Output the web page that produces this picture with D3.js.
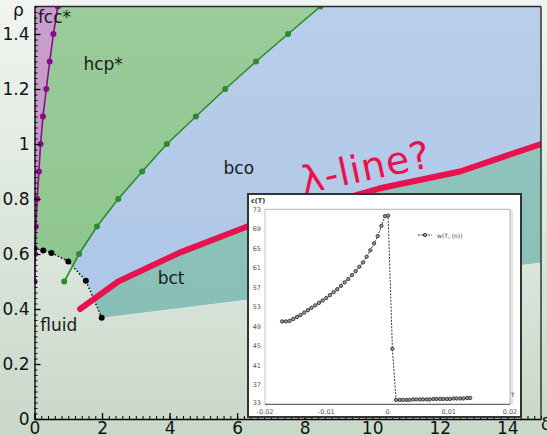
<!DOCTYPE html>
<html>
<head>
<meta charset="utf-8">
<script src="https://cdn.jsdelivr.net/npm/d3@7"></script>
<style>
  html, body { margin: 0; padding: 0; background: #e4ece4; }
  svg { display: block; }
  text { font-family: "DejaVu Sans", sans-serif; }
</style>
</head>
<body>
<script>
// Phase diagram of the model in the (delta, rho) plane, with an inset of c(T)

// Phase boundaries, each as [delta, rho] pairs
const fccHcpLine = [[0, 0.5], [0.02, 0.6], [0.04, 0.7], [0.08, 0.8], [0.13, 0.9], [0.18, 1.0],
                    [0.25, 1.1], [0.35, 1.2], [0.45, 1.3], [0.56, 1.4], [0.69, 1.5]];
const hcpBcoLine = [[0.88, 0.5], [1.32, 0.6], [1.85, 0.7], [2.48, 0.8], [3.19, 0.9], [3.92, 1.0],
                    [4.78, 1.1], [5.65, 1.2], [6.56, 1.3], [7.51, 1.4], [8.47, 1.5]];
const fluidLine = [[0, 0.62], [0.26, 0.613], [0.5, 0.604], [1.0, 0.573], [1.52, 0.503], [1.99, 0.368]];
const bctFluidLine = [[1.99, 0.368], [15, 0.569]];
const lambdaLine = [[1.35, 0.40], [2.48, 0.50], [4.3, 0.605], [6.3, 0.70], [10.2, 0.838], [12.6, 0.90], [15, 1.0]];

// Axis ticks
const xTicks = [0, 2, 4, 6, 8, 10, 12, 14];
const yTicks = [0, 0.2, 0.4, 0.6, 0.8, 1, 1.2, 1.4];
const yTickLabels = ["0", "0.2", "0.4", "0.6", "0.8", "1", "1.2", "1.4"];

// Region names
const regionLabels = [
  { text: "fcc*", d: 0.1, r: 1.44 },
  { text: "hcp*", d: 1.45, r: 1.27 },
  { text: "bco", d: 5.6, r: 0.89 },
  { text: "bct", d: 3.65, r: 0.49 },
  { text: "fluid", d: 0.17, r: 0.32 }
];

// Inset: c(T) against T
const insetT1 = [-0.0172, -0.0166, -0.0160, -0.0154, -0.0148, -0.0142, -0.0136, -0.0130, -0.0124, -0.0118,
                 -0.0112, -0.0106, -0.0100, -0.0094, -0.0088, -0.0082, -0.0076, -0.0070, -0.0064, -0.0058,
                 -0.0052, -0.0046, -0.0040, -0.0034, -0.0028, -0.0022, -0.0016, -0.0010, -0.0004, 0.0001];
const insetC1 = [50.0, 50.0, 50.1, 50.5, 50.9, 51.3, 51.8, 52.3, 52.8, 53.3,
                 53.8, 54.3, 54.8, 55.4, 56.0, 56.6, 57.3, 58.0, 58.7, 59.5,
                 60.3, 61.2, 62.1, 63.3, 64.6, 66.0, 67.5, 69.6, 71.6, 71.7];
const insetT2 = [0.0008, 0.0014, 0.0020, 0.0025, 0.0031, 0.0036, 0.0042, 0.0047, 0.0053, 0.0058, 0.0064,
                 0.0069, 0.0075, 0.0080, 0.0086, 0.0091, 0.0097, 0.0102, 0.0108, 0.0113, 0.0119,
                 0.0124, 0.0130, 0.0135];
const insetC2 = [44.4, 33.9, 33.9, 33.9, 33.9, 33.9, 34.0, 34.0, 34.0, 34.0, 34.0,
                 34.0, 34.1, 34.1, 34.1, 34.1, 34.1, 34.1, 34.2, 34.2, 34.2,
                 34.2, 34.3, 34.3];
const insetXTicks = [-0.02, -0.01, 0, 0.01, 0.02];
const insetXLabels = ["-0,02", "-0,01", "0", "0,01", "0,02"];
const insetYTicks = [33, 37, 41, 45, 49, 53, 57, 61, 65, 69, 73];

const W = 547, H = 436;
const svg = d3.select("body").append("svg").attr("width", W).attr("height", H);
const defs = svg.append("defs");

const bg = defs.append("linearGradient").attr("id", "bg").attr("x1", 0).attr("y1", 0).attr("x2", 0).attr("y2", 1);
bg.append("stop").attr("offset", 0).attr("stop-color", "#f1f5f1");
bg.append("stop").attr("offset", 1).attr("stop-color", "#c8d8c9");
const sheen = defs.append("linearGradient").attr("id", "sheen").attr("x1", 0).attr("y1", 0).attr("x2", 0).attr("y2", 1);
sheen.append("stop").attr("offset", 0).attr("stop-color", "#fff").attr("stop-opacity", 0.16);
sheen.append("stop").attr("offset", 1).attr("stop-color", "#fff").attr("stop-opacity", 0);

svg.append("rect").attr("width", W).attr("height", H).attr("fill", "url(#bg)");

const x = d3.scaleLinear([0, 15], [34.5, 541]);
const y = d3.scaleLinear([0, 1.5], [419, 6.5]);
const line = d3.line().x(d => x(d[0])).y(d => y(d[1]));
const poly = pts => line(pts) + "Z";

// Solid phases: everything above the fluid boundary
const solidPts = fluidLine.concat([bctFluidLine[1], [15, 1.5], [0, 1.5]]);
defs.append("clipPath").attr("id", "solid").append("path").attr("d", poly(solidPts));
defs.append("clipPath").attr("id", "frame").append("rect")
  .attr("x", x(0)).attr("y", y(1.5)).attr("width", x(15) - x(0)).attr("height", y(0) - y(1.5));

const fills = svg.append("g").attr("clip-path", "url(#frame)");
const solid = fills.append("g").attr("clip-path", "url(#solid)");
solid.append("path").attr("d", poly(solidPts)).attr("fill", "#abc5e6");
solid.append("path")
  .attr("d", poly(bctFluidLine.concat(lambdaLine.slice().reverse())))
  .attr("fill", "#82bdb4");
solid.append("path")
  .attr("d", poly(fccHcpLine.concat(hcpBcoLine.slice().reverse())))
  .attr("fill", "#88c288");
solid.append("path")
  .attr("d", poly(fccHcpLine.concat([[0, 1.5]])))
  .attr("fill", "#be8dc3");
fills.append("rect").attr("x", x(0)).attr("y", y(1.5))
  .attr("width", x(15) - x(0)).attr("height", y(0) - y(1.5)).attr("fill", "url(#sheen)");

// Boundary lines with their computed points
const lines = svg.append("g").attr("clip-path", "url(#frame)");
lines.append("path").attr("d", line(fluidLine)).attr("fill", "none")
  .attr("stroke", "#000").attr("stroke-width", 1.4).attr("stroke-dasharray", "1.5,2");
lines.append("path").attr("d", line(fccHcpLine)).attr("fill", "none")
  .attr("stroke", "#8b0a8b").attr("stroke-width", 1.6);
lines.append("path").attr("d", line(hcpBcoLine)).attr("fill", "none")
  .attr("stroke", "#2a8c2a").attr("stroke-width", 1.6);
const dots = (pts, c) => lines.append("g").selectAll("circle").data(pts).join("circle")
  .attr("cx", d => x(d[0])).attr("cy", d => y(d[1])).attr("r", 3).attr("fill", c);
dots(fccHcpLine, "#8b0a8b");
dots(hcpBcoLine, "#2a8c2a");
dots(fluidLine, "#000");
lines.append("path").attr("d", line(lambdaLine)).attr("fill", "none")
  .attr("stroke", "#e8124f").attr("stroke-width", 6).attr("stroke-linecap", "round").attr("stroke-linejoin", "round");

// Region names
svg.append("g").selectAll("text").data(regionLabels).join("text")
  .attr("x", d => x(d.d)).attr("y", d => y(d.r))
  .attr("font-size", 17).attr("fill", "#1a1a1a").text(d => d.text);
svg.append("text").attr("transform", "translate(304,194) rotate(-12)")
  .attr("font-size", 38).attr("letter-spacing", 1).attr("fill", "#e8124f").text("λ-line?");

// Frame
svg.append("line").attr("x1", x(0)).attr("x2", x(15)).attr("y1", y(1.5)).attr("y2", y(1.5))
  .attr("stroke", "#2a2a2a").attr("stroke-width", 1.4);
svg.append("line").attr("x1", x(15)).attr("x2", x(15)).attr("y1", y(1.5)).attr("y2", y(0))
  .attr("stroke", "#2a2a2a").attr("stroke-width", 1.4);

// Axes: minor ticks first, then major ticks and labels
const minorY = d3.range(0, 1.501, 0.02);
const minorX = d3.range(0, 15.01, 0.2);
svg.append("g").attr("transform", `translate(${x(0)},0)`)
  .call(d3.axisLeft(y).tickValues(minorY).tickSizeInner(-3).tickSizeOuter(0).tickFormat(""))
  .call(g => g.select(".domain").remove());
svg.append("g").attr("transform", `translate(0,${y(0)})`)
  .call(d3.axisBottom(x).tickValues(minorX).tickSizeInner(-3).tickSizeOuter(0).tickFormat(""))
  .call(g => g.select(".domain").remove());
const yAxis = svg.append("g").attr("transform", `translate(${x(0)},0)`)
  .call(d3.axisLeft(y).tickValues(yTicks).tickSizeInner(-6).tickSizeOuter(0).tickPadding(5)
    .tickFormat((d, i) => yTickLabels[i]));
const xAxis = svg.append("g").attr("transform", `translate(0,${y(0)})`)
  .call(d3.axisBottom(x).tickValues(xTicks).tickSizeInner(-6).tickSizeOuter(0).tickPadding(3));
[xAxis, yAxis].forEach(a => {
  a.selectAll("text").attr("font-size", 17).attr("fill", "#111").attr("font-family", "DejaVu Sans");
  a.selectAll("path,line").attr("stroke", "#000").attr("stroke-width", 1.3);
});
svg.append("text").attr("x", 13).attr("y", 16).attr("font-size", 17).attr("fill", "#111").text("ρ");
svg.append("text").attr("x", 541).attr("y", 430).attr("font-size", 17).attr("fill", "#111").text("δ");

// Inset
const inset = svg.append("g");
inset.append("rect").attr("x", 248).attr("y", 194).attr("width", 273).attr("height", 223)
  .attr("fill", "#fff").attr("stroke", "#333").attr("stroke-width", 2);
const ix = d3.scaleLinear([-0.02, 0.02], [265, 510]);
const iy = d3.scaleLinear([33, 73], [404.3, 209.3]);
inset.append("rect").attr("x", 510).attr("y", 210).attr("width", 3).attr("height", 195).attr("fill", "#e4e4e4");
inset.append("path").attr("d", `M265,${iy(73)}H510V${iy(33)}`).attr("fill", "none")
  .attr("stroke", "#b5b5b5").attr("stroke-width", 1);
inset.append("line").attr("x1", 265).attr("x2", 265).attr("y1", iy(73)).attr("y2", iy(33))
  .attr("stroke", "#888").attr("stroke-dasharray", "1,1");
inset.append("line").attr("x1", 265).attr("x2", 510).attr("y1", iy(33)).attr("y2", iy(33))
  .attr("stroke", "#444").attr("stroke-width", 1);
inset.append("g").selectAll("text").data(insetYTicks).join("text")
  .attr("x", 261).attr("y", d => iy(d) - (d === 33 ? 1.5 : 0)).attr("dy", "0.35em").attr("text-anchor", "end")
  .attr("font-size", 6.5).attr("fill", "#555").text(d => d);
inset.append("g").selectAll("text").data(insetXTicks).join("text")
  .attr("x", d => ix(d)).attr("y", 413.5).attr("text-anchor", "middle")
  .attr("font-size", 6.5).attr("fill", "#555").text((d, i) => insetXLabels[i]);
inset.append("text").attr("x", 251).attr("y", 203).attr("font-size", 6.5).attr("fill", "#333")
  .attr("font-weight", "bold").text("c(T)");
inset.append("text").attr("x", 511).attr("y", 397).attr("font-size", 6).attr("fill", "#333").text("T");

const cData = insetT1.map((t, i) => [t, insetC1[i]]).concat(insetT2.map((t, i) => [t, insetC2[i]]));
const iline = d3.line().x(d => ix(d[0])).y(d => iy(d[1]));
inset.append("path").attr("d", iline(cData)).attr("fill", "none")
  .attr("stroke", "#222").attr("stroke-width", 0.9).attr("stroke-dasharray", "2,1.3");
inset.append("g").selectAll("circle").data(cData).join("circle")
  .attr("cx", d => ix(d[0])).attr("cy", d => iy(d[1])).attr("r", 1.7)
  .attr("fill", "#999").attr("stroke", "#222").attr("stroke-width", 0.8);

// Inset legend
inset.append("line").attr("x1", 418).attr("x2", 432).attr("y1", 235).attr("y2", 235)
  .attr("stroke", "#222").attr("stroke-width", 0.9).attr("stroke-dasharray", "2,1.3");
inset.append("circle").attr("cx", 425).attr("cy", 235).attr("r", 1.7)
  .attr("fill", "#999").attr("stroke", "#222").attr("stroke-width", 0.8);
inset.append("text").attr("x", 437).attr("y", 237.5).attr("font-size", 6).attr("fill", "#444").text("w(T, (n))");
</script>
</body>
</html>
